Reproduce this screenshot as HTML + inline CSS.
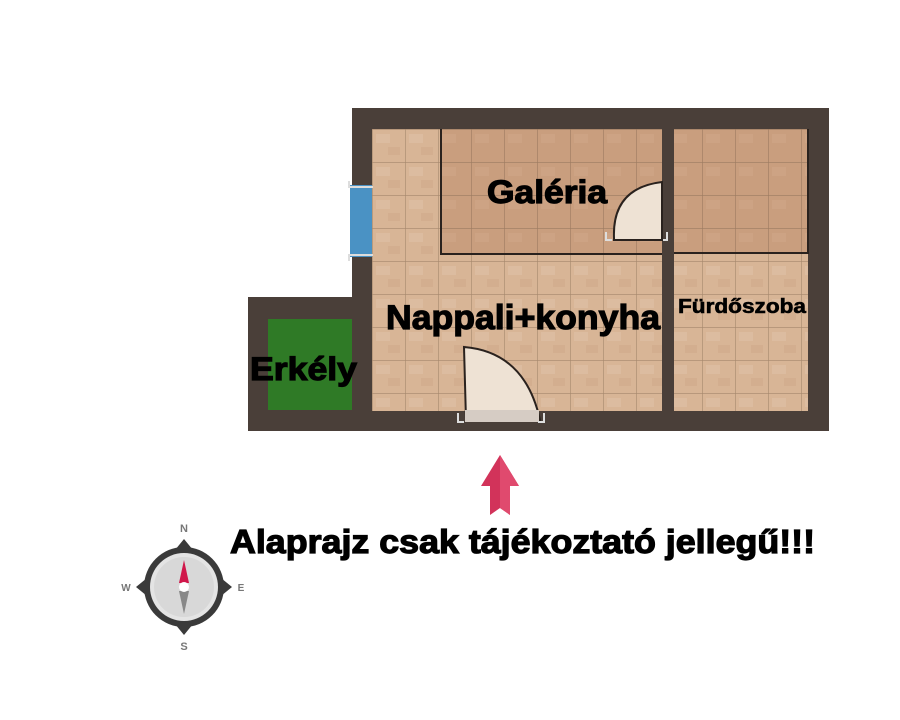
<!DOCTYPE html>
<html><head><meta charset="utf-8"><style>
body{margin:0;background:#fff;width:900px;height:720px;overflow:hidden}
svg{display:block}
text{font-family:"Liberation Sans",sans-serif;font-weight:bold;fill:#000}
.h{stroke:#000;stroke-width:1.2}
</style></head><body>
<svg width="900" height="720" viewBox="0 0 900 720" xmlns="http://www.w3.org/2000/svg">
<defs>
<pattern id="tile" x="372" y="129" width="33" height="33" patternUnits="userSpaceOnUse">
<rect width="33" height="33" fill="#d8b596"/>
<rect x="4" y="5" width="14" height="9" fill="#e0c2a6" opacity="0.6"/>
<rect x="16" y="18" width="12" height="8" fill="#cda888" opacity="0.5"/>
<path d="M0 0H33M0 0V33" stroke="#a5876c" stroke-width="1.2"/>
</pattern>
<pattern id="tile2" x="372" y="129" width="33" height="33" patternUnits="userSpaceOnUse">
<rect width="33" height="33" fill="#c99e7e"/>
<rect x="4" y="5" width="14" height="9" fill="#d0a788" opacity="0.6"/>
<path d="M0 0H33M0 0V33" stroke="#9c7a60" stroke-width="1.2"/>
</pattern>
</defs>
<rect x="352" y="108" width="477" height="323" fill="#4a3f39"/>
<rect x="248" y="297" width="110" height="134" fill="#4a3f39"/>
<rect x="372" y="129" width="290" height="282" fill="url(#tile)"/>
<rect x="674" y="129" width="134" height="282" fill="url(#tile)"/>
<rect x="441" y="129" width="221" height="125" fill="url(#tile2)"/>
<rect x="674" y="129" width="134" height="124" fill="url(#tile2)"/>
<path d="M441 129V254H662" fill="none" stroke="#2a221e" stroke-width="2"/>
<path d="M674 253H808V129" fill="none" stroke="#2a221e" stroke-width="2"/>
<rect x="268" y="319" width="84" height="91" fill="#2f7a26"/>
<rect x="350" y="185" width="22" height="72" fill="#4a92c4"/>
<path d="M349 181v6h24M349 261v-6h24" fill="none" stroke="#ddd" stroke-width="2"/>
<path d="M614 238 Q612 188 662 182 V240 H614 Z" fill="#eee2d4" stroke="#2a221e" stroke-width="2"/>
<path d="M606 232v8h6M667 232v8h-4" fill="none" stroke="#ddd" stroke-width="2"/>
<path d="M464 347 Q525 352 540 420 H466 Z" fill="#eee2d4" stroke="#2a221e" stroke-width="2"/>
<rect x="465" y="410" width="74" height="12" fill="#d6ccc4"/>
<path d="M458 413v9h6M544 413v9h-6" fill="none" stroke="#ddd" stroke-width="2"/>
<text class="h" x="487" y="203" font-size="32" textLength="120" lengthAdjust="spacingAndGlyphs">Galéria</text>
<text class="h" x="386" y="329" font-size="34" textLength="274" lengthAdjust="spacingAndGlyphs">Nappali+konyha</text>
<text class="h" x="678" y="313" font-size="20" textLength="128" lengthAdjust="spacingAndGlyphs" style="stroke-width:0.6">Fürdőszoba</text>
<text class="h" x="250" y="380" font-size="32" textLength="107" lengthAdjust="spacingAndGlyphs">Erkély</text>
<path d="M500 455 L519 486 H510 V515 L500 508 L490 515 V486 H481 Z" fill="#d2335a"/>
<path d="M500 455 L519 486 H510 V515 L500 508 Z" fill="#e04a6e"/>
<text class="h" x="230" y="553" font-size="33" textLength="585" lengthAdjust="spacingAndGlyphs">Alaprajz csak tájékoztató jellegű!!!</text>
<g transform="translate(184,587)">
<path d="M0 -48 L9 -37 L-9 -37Z M0 48 L9 37 L-9 37Z M-48 0 L-37 9 L-37 -9Z M48 0 L37 9 L37 -9Z" fill="#3a3a3a"/>
<circle r="40" fill="#3a3a3a"/>
<circle r="34" fill="#e4e4e4"/>
<circle r="30" fill="#d8d8d8"/>
<path d="M0 -27 L5 -4 H-5Z" fill="#d0174a"/>
<path d="M0 27 L5 4 H-5Z" fill="#888"/>
<circle r="5" fill="#fff"/>
<text x="0" y="-55" font-size="11" text-anchor="middle" style="fill:#777">N</text>
<text x="0" y="63" font-size="11" text-anchor="middle" style="fill:#777">S</text>
<text x="-58" y="4" font-size="10" text-anchor="middle" style="fill:#777">W</text>
<text x="57" y="4" font-size="10" text-anchor="middle" style="fill:#777">E</text>
</g>
</svg>
</body></html>
